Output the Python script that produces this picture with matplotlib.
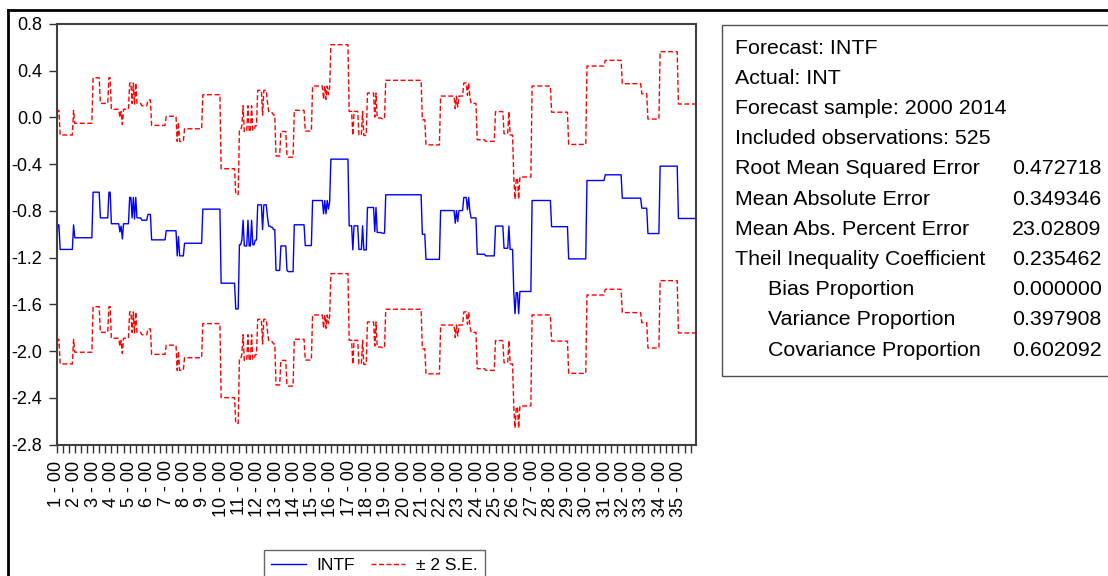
import numpy as np
import matplotlib
matplotlib.use("Agg")
import matplotlib.pyplot as plt
from matplotlib.lines import Line2D
from matplotlib.patches import Rectangle

plt.rcParams['font.family'] = ['Liberation Sans', 'DejaVu Sans']

levels = [-1.13, -0.92, -1.13, -0.92,
          -1.03,
          -0.64, -0.86, -0.64,
          -0.91, -0.98, -0.93, -1.04, -0.91,
          -0.685, -0.86, -0.685, -0.87, -0.685, -0.86, -0.88, -0.83, -1.048,
          -0.97, -1.185, -1.02, -1.185,
          -1.077,
          -0.785,
          -1.419, -1.639,
          -1.09, -1.05, -0.88, -1.10, -0.88, -1.10, -0.88, -1.09, -1.05,
          -0.748, -0.96, -0.748, -0.85, -0.93, -0.94, -0.96,
          -1.31, -1.10, -1.31, -1.32,
          -0.919, -1.097,
          -0.711, -0.825, -0.711, -0.825, -0.711, -0.785, -0.72,
          -0.357,
          -0.928, -1.134, -0.928, -1.13, -0.928, -1.134,
          -0.771, -0.977, -0.771, -0.985, -0.991,
          -0.662,
          -1.0, -1.215,
          -0.797, -0.905, -0.797, -0.891,
          -0.797, -0.685, -0.79, -0.685, -0.805, -0.86,
          -1.171, -1.185,
          -0.93, -1.12, -0.93, -1.13,
          -1.5, -1.68, -1.5, -1.68, -1.49,
          -0.711, -0.935,
          -1.211,
          -0.54,
          -0.491, -0.691,
          -0.777, -0.994,
          -0.417,
          -0.865]
runs = [1, 2, 11, 1,
        15,
        6, 7, 2,
        7, 1, 1, 1, 5,
        2, 1, 1, 1, 1, 4, 5, 3, 12,
        9, 1, 1, 4,
        15,
        15,
        12, 3,
        2, 1, 1, 3, 1, 2, 1, 2, 2,
        4, 1, 3, 1, 2, 2, 2,
        4, 5, 1, 5,
        9, 6,
        9, 1, 1, 1, 1, 1, 1,
        15,
        3, 1, 4, 3, 1, 3,
        6, 1, 1, 4, 3,
        30,
        3, 12,
        12, 1, 1, 1,
        4, 3, 1, 1, 1, 5,
        7, 8,
        7, 4, 1, 3,
        1, 1, 2, 1, 10,
        16, 14,
        15,
        15,
        14, 16,
        5, 10,
        15,
        15]
two_se = 0.98

cross_ids = list(range(1, 36))
year_label = "00"
obs_per_id = 15
y_ticks = [-2.8, -2.4, -2.0, -1.6, -1.2, -0.8, -0.4, 0.0, 0.4, 0.8]

stat_names = ["Forecast: INTF", "Actual: INT", "Forecast sample: 2000 2014",
              "Included observations: 525", "Root Mean Squared Error",
              "Mean Absolute Error", "Mean Abs. Percent Error",
              "Theil Inequality Coefficient", "Bias Proportion",
              "Variance Proportion", "Covariance Proportion"]
stat_values = ["", "", "", "", "0.472718", "0.349346", "23.02809",
               "0.235462", "0.000000", "0.397908", "0.602092"]
stat_indent = [False] * 8 + [True] * 3

intf = np.repeat(levels, runs)
obs = np.arange(len(intf))

W, H = 1108, 576
fig = plt.figure(figsize=(W / 100, H / 100), dpi=100)
ax = fig.add_axes([56.5 / W, 1 - 444.5 / H, 639 / W, 420.5 / H])

ax.plot(obs, intf, color='#0000ff', lw=1.0, label='INTF')
ax.plot(obs, intf + two_se, color='#ff0000', lw=1.0, ls=(0, (3.6, 1.8)), label='± 2 S.E.')
ax.plot(obs, intf - two_se, color='#ff0000', lw=1.0, ls=(0, (3.6, 1.8)))

ax.set_xlim(0, len(intf) - 1)
ax.set_ylim(-2.8, 0.8)
ax.set_yticks(y_ticks)
ax.set_yticklabels([f"{v:.1f}" for v in y_ticks])

xt = np.arange(0, len(intf), 5)
xl = []
for t in xt:
    if t % obs_per_id == 0:
        xl.append(f"{cross_ids[t // obs_per_id]} - {year_label}")
    else:
        xl.append("")
ax.set_xticks(xt)
ax.set_xticklabels(xl, rotation=90)

ax.tick_params(axis='both', direction='out', length=5.5, width=1, colors='#333333',
               labelcolor='black', labelsize=13)
ax.tick_params(axis='x', pad=6)
ax.tick_params(axis='y', pad=5)
for s in ax.spines.values():
    s.set_color('#404040')
    s.set_linewidth(1.5)

# outer frame (only top and left edges visible in the crop)
fig.add_artist(Line2D([8 / W, 1], [1 - 10 / H, 1 - 10 / H], color='black', lw=2))
fig.add_artist(Line2D([8 / W, 8 / W], [0, 1 - 10 / H], color='black', lw=2))

# statistics table
fig.add_artist(Rectangle((722 / W, 1 - 375.7 / H), (1130 - 722) / W, (375.7 - 25) / H,
                         transform=fig.transFigure, fill=False, edgecolor='#505050', lw=1))
for k in range(len(stat_names)):
    yy = 1 - (48.3 + k * 30.17) / H
    xx = 768 if stat_indent[k] else 735
    fig.text(xx / W, yy, stat_names[k], va='center', ha='left', fontsize=15.4)
    if stat_values[k]:
        fig.text(1011.7 / W, yy, stat_values[k], va='center', ha='left', fontsize=15.4)

leg = fig.legend(handles=ax.get_lines()[:2], loc='upper left',
                 bbox_to_anchor=(263.5 / W, 1 - 550 / H), ncol=2, frameon=True,
                 fancybox=False, edgecolor='#404040', fontsize=12.5,
                 handlelength=2.0, handletextpad=0.6, columnspacing=0.9,
                 borderpad=0.45, borderaxespad=0)
leg.get_frame().set_linewidth(1)

fig.savefig("out.png", dpi=100)
